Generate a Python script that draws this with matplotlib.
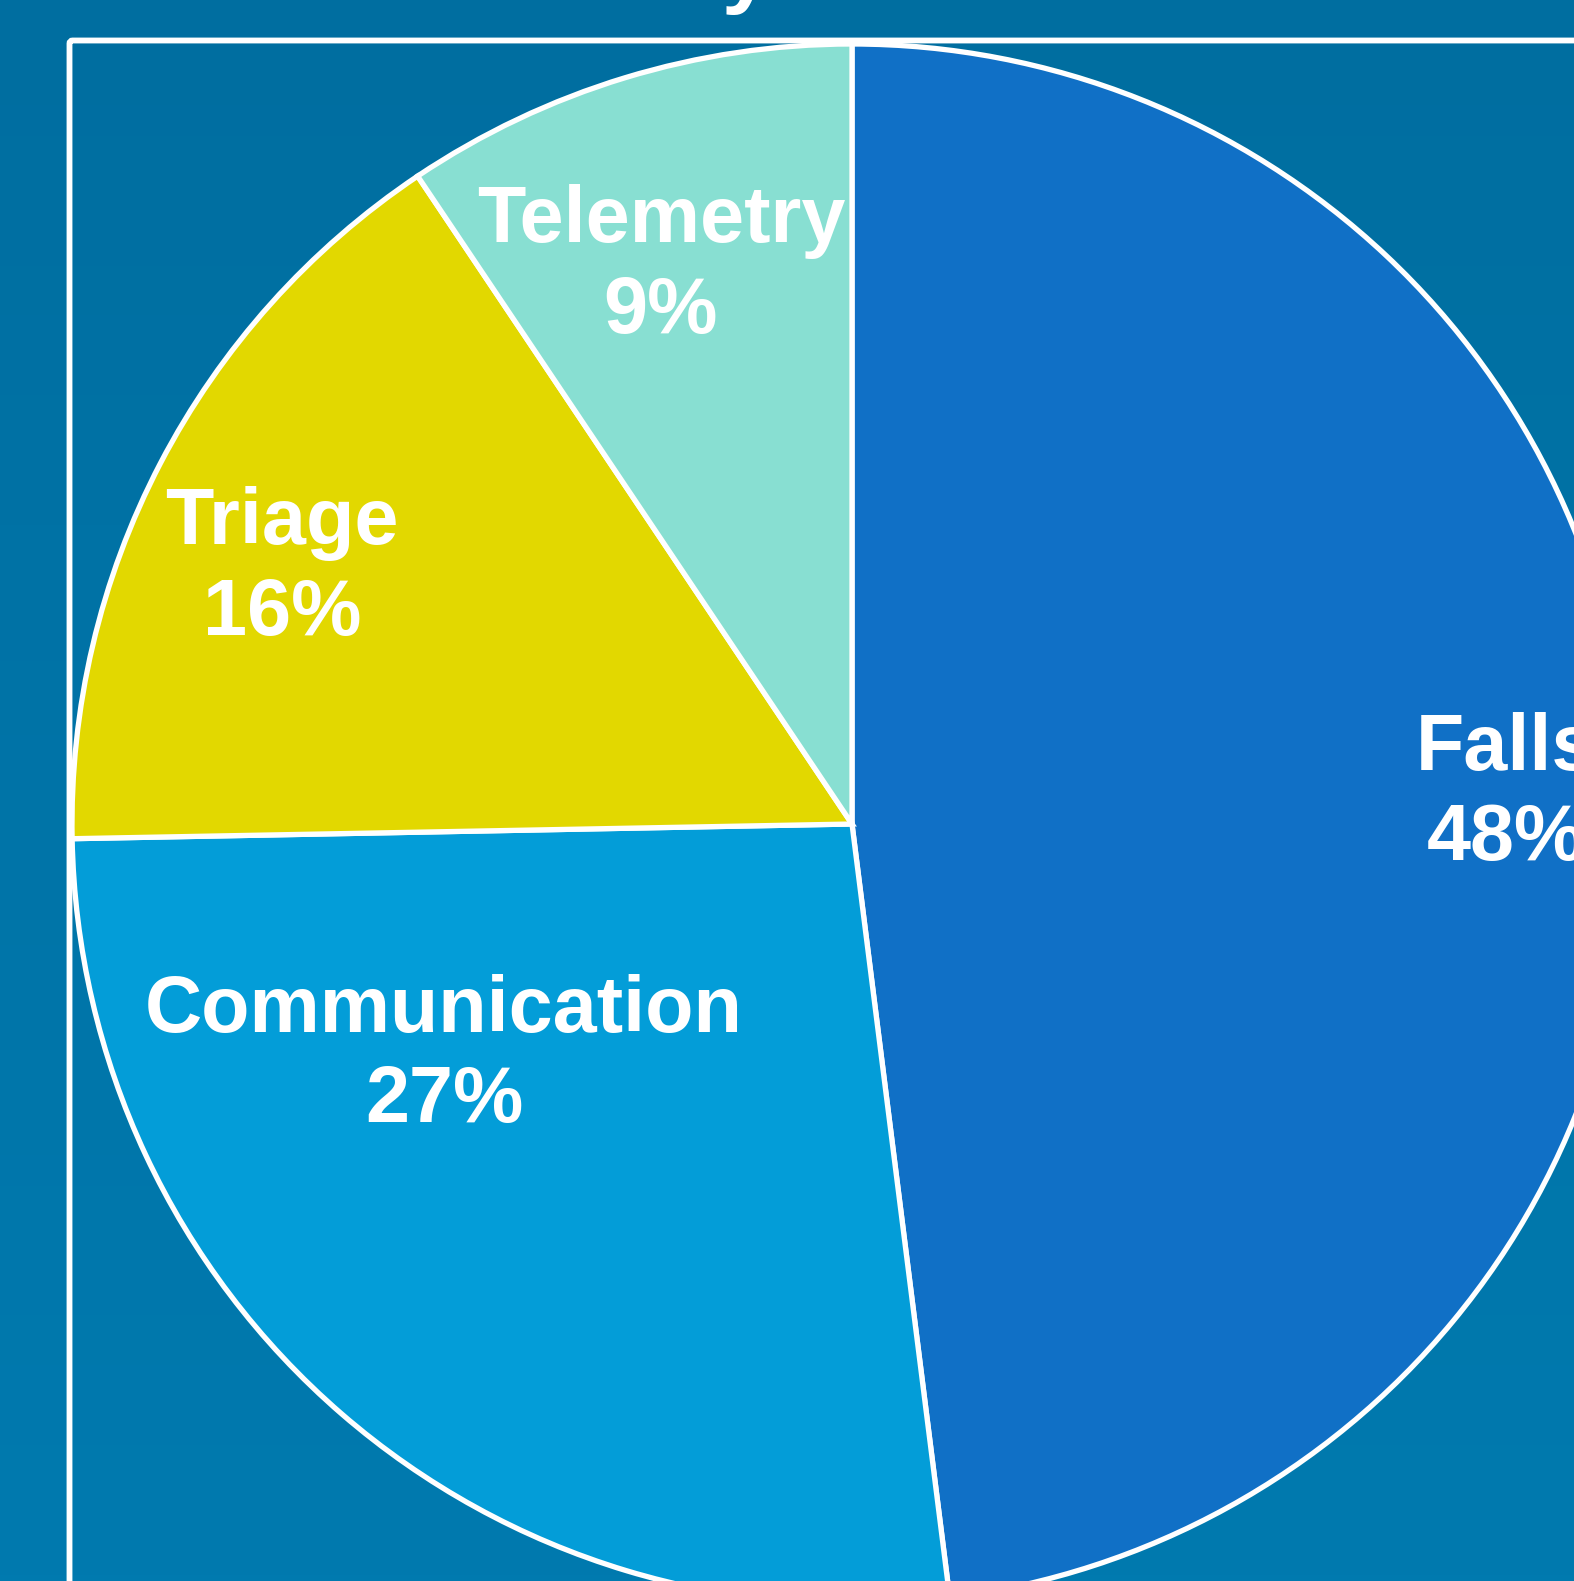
import numpy as np
import matplotlib
matplotlib.use("Agg")
import matplotlib.pyplot as plt
from matplotlib.patches import FancyBboxPatch

# data
categories = ["Falls", "Communication", "Triage", "Telemetry"]
shares = [48.0, 26.7, 15.9, 9.4]
pct_labels = ["48%", "27%", "16%", "9%"]
colors = ["#1070C6", "#039DD8", "#E2D800", "#88DFD2"]
# where each label sits, in pie units (radius = 1)
label_pos = [(0.838, 0.038), (-0.523, -0.298), (-0.731, 0.327), (-0.245, 0.714)]

W, H, DPI = 1574, 1581, 100
fig = plt.figure(figsize=(W / DPI, H / DPI), dpi=DPI)

#background gradient
bg = fig.add_axes([0, 0, 1, 1], zorder=-10)
grad = np.linspace(0, 1, 256).reshape(-1, 1)
top = np.array([0, 110, 160]) / 255
bot = np.array([0, 122, 175]) / 255
img = top + grad[..., None] * (bot - top)
bg.imshow(img, aspect="auto", extent=[0, 1, 0, 1])
bg.axis("off")

# title, mostly above the picture
fig.text(797 / W, 1 + 4 / H, "Survey Results", ha="center", va="baseline",
         fontsize=65, fontweight="bold", color="white", family="Liberation Sans")

# white frame (runs off the right and bottom)
frame = FancyBboxPatch((69.5 / W, -0.2), 1.5, 1 - 40.5 / H + 0.2,
                       boxstyle="round,pad=0,rounding_size=0.002",
                       transform=fig.transFigure, fill=False,
                       edgecolor="white", linewidth=4.2)
fig.add_artist(frame)

# pie axes: center (852, 824) px from top-left, radius 780 px
R = 780
cx, cy = 852, H - 824
ax = fig.add_axes([(cx - R) / W, (cy - R) / H, 2 * R / W, 2 * R / H])
ax.pie(shares, colors=colors, startangle=90, counterclock=False, radius=1,
       wedgeprops=dict(edgecolor="white", linewidth=3.8))
ax.set_xlim(-1, 1)
ax.set_ylim(-1, 1)
ax.set_aspect("equal")
ax.axis("off")

for name, pct, (x, y) in zip(categories, pct_labels, label_pos):
    ax.text(x, y + 0.058, name, ha="center", va="center", fontsize=57,
            fontweight="bold", color="white", family="Liberation Sans")
    ax.text(x, y - 0.058, pct, ha="center", va="center", fontsize=57,
            fontweight="bold", color="white", family="Liberation Sans")

fig.savefig("out.png", dpi=DPI)
